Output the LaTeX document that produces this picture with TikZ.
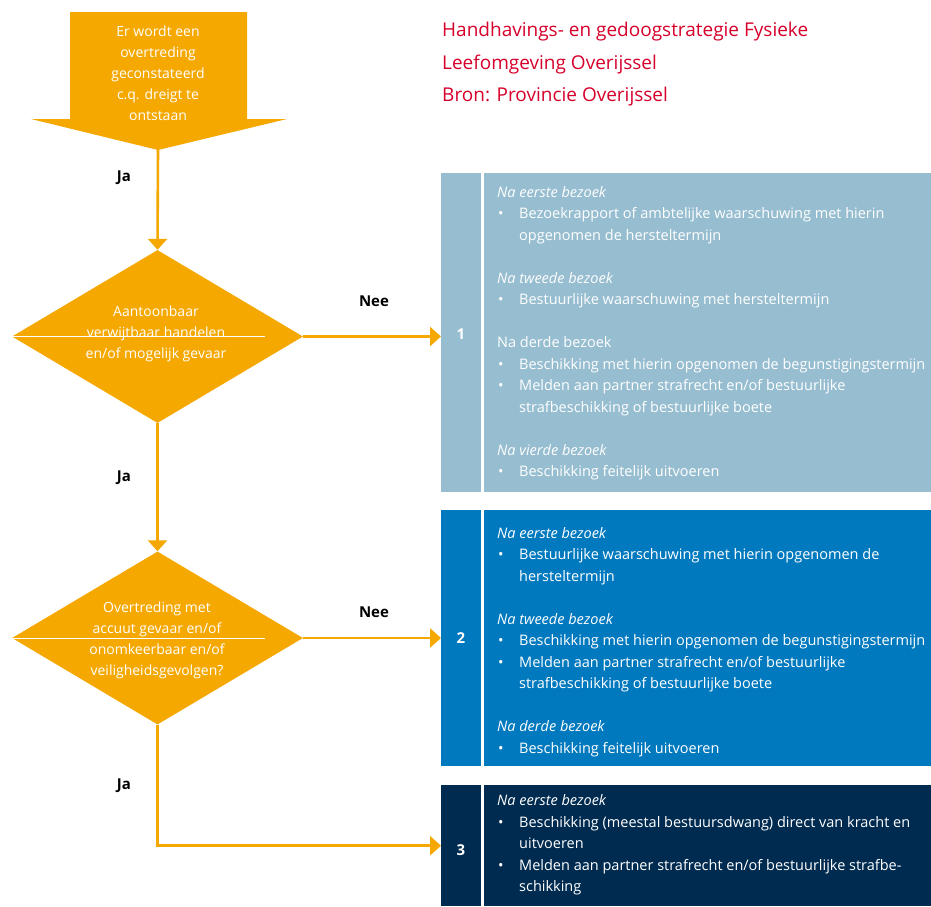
\documentclass[tikz,border=0pt]{standalone}
\usepackage{fontspec}
\setmainfont{Open Sans}
\usetikzlibrary{arrows.meta,shapes.geometric}
\definecolor{org}{HTML}{F5A800}
\definecolor{lblue}{HTML}{97BDD0}
\definecolor{mblue}{HTML}{0079BE}
\definecolor{navy}{HTML}{002B50}
\definecolor{titlered}{HTML}{D6002A}
\newcommand{\bl}{\makebox[22pt][l]{\hspace{1pt}\textbullet}}
\newcommand{\ind}{\hspace*{22pt}}
\begin{document}
\begin{tikzpicture}[x=1pt,y=-1pt,
  conn/.style={draw=org, line width=2.6pt, -{Triangle[length=11pt,width=19pt]}},
  decision/.style={diamond, fill=org, minimum width=291pt, minimum height=173pt, inner sep=0pt},
  wtext/.style={text=white, align=center, font=\fontsize{14}{21}\selectfont, inner sep=0pt},
  lab/.style={font=\fontsize{15}{17}\selectfont\bfseries, text=black},
  panel/.style={anchor=north west, minimum width=490pt, inner sep=0pt},
  num/.style={text=white, font=\fontsize{15}{17}\selectfont\bfseries},
  ptext/.style={anchor=north west, text=white, align=left, inner sep=0pt, font=\fontsize{14.5}{21.5}\selectfont},
  sep/.style={draw=white, line width=3pt}]
\useasboundingbox (0,0) rectangle (931,906);

% title
\node[anchor=north west, text=titlered, align=left, inner sep=0pt, font=\fontsize{19}{32.5}\selectfont] (title) at (442,22)
 {Handhavings- en gedoogstrategie Fysieke\\Leefomgeving Overijssel\\Bron: Provincie Overijssel};

% start arrow shape
\fill[org] (70,12) -- (247,12) -- (247,119) -- (287,119) -- (158,150) -- (31,119) -- (70,119) -- cycle;
\coordinate (a0) at (158,150);
\node[wtext] (t0) at (158,73) {Er wordt een\\overtreding\\geconstateerd\\c.q. dreigt te\\ontstaan};

% decisions
\node[decision] (d1) at (157.5,336.5) {};
\draw[white, line width=0.5pt] (d1.west) -- ++(253,0);
\node[wtext] (t1) at (156,334) {Aantoonbaar\\verwijtbaar handelen\\en/of mogelijk gevaar};

\node[decision] (d2) at (157.5,638) {};
\draw[white, line width=0.5pt] (d2.west) -- ++(253,0);
\node[wtext] (t2) at (157,640) {Overtreding met\\accuut gevaar en/of\\onomkeerbaar en/of\\veiligheidsgevolgen?};

% panels
\node[panel, fill=lblue, minimum height=319pt] (b1) at (441,173) {};
\node[panel, fill=mblue, minimum height=256pt] (b2) at (441,510) {};
\node[panel, fill=navy, minimum height=121pt] (b3) at (441,785) {};
\draw[sep] (482,173) -- (482,492);
\draw[sep] (482,510) -- (482,766);
\draw[sep] (482,785) -- (482,906);
\node[num] (n1) at (461,334) {1};
\node[num] (n2) at (461,638) {2};
\node[num] (n3) at (461,850) {3};

\node[ptext] (p1) at (497,186) {\textit{Na eerste bezoek}\\
\bl Bezoekrapport of ambtelijke waarschuwing met hierin\\
\ind opgenomen de hersteltermijn\\[21.5pt]
\textit{Na tweede bezoek}\\
\bl Bestuurlijke waarschuwing met hersteltermijn\\[21.5pt]
Na derde bezoek\\
\bl Beschikking met hierin opgenomen de begunstigingstermijn\\
\bl Melden aan partner strafrecht en/of bestuurlijke\\
\ind strafbeschikking of bestuurlijke boete\\[21.5pt]
\textit{Na vierde bezoek}\\
\bl Beschikking feitelijk uitvoeren};

\node[ptext] (p2) at (497,527) {\textit{Na eerste bezoek}\\
\bl Bestuurlijke waarschuwing met hierin opgenomen de\\
\ind hersteltermijn\\[21.5pt]
\textit{Na tweede bezoek}\\
\bl Beschikking met hierin opgenomen de begunstigingstermijn\\
\bl Melden aan partner strafrecht en/of bestuurlijke\\
\ind strafbeschikking of bestuurlijke boete\\[21.5pt]
\textit{Na derde bezoek}\\
\bl Beschikking feitelijk uitvoeren};

\node[ptext] (p3) at (497,794.5) {\textit{Na eerste bezoek}\\
\bl Beschikking (meestal bestuursdwang) direct van kracht en\\
\ind uitvoeren\\
\bl Melden aan partner strafrecht en/of bestuurlijke strafbe-\\
\ind schikking};

% connectors
\draw[conn] (a0) -- (d1.north);
\draw[conn] (d1.south) -- (d2.north);
\draw[conn] (d1.east) -- (d1.east -| b1.west);
\draw[conn] (d2.east) -- (d2.east -| b2.west);
\draw[conn] (d2.south) |- (b3.west);

% labels
\node[lab] (j1) at (124,178) {Ja};
\node[lab] (j2) at (124,478) {Ja};
\node[lab] (j3) at (124,786) {Ja};
\node[lab] (ne1) at (374,301) {Nee};
\node[lab] (ne2) at (374,612) {Nee};
\end{tikzpicture}
\end{document}
